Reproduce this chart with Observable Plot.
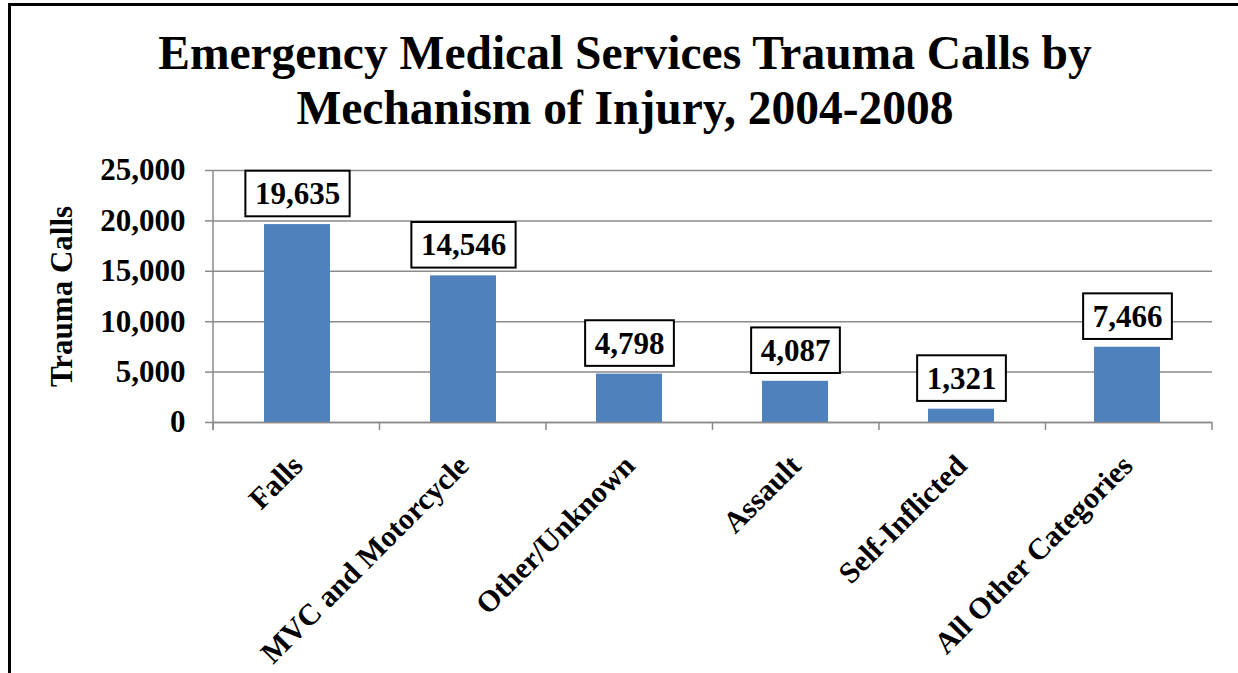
<!DOCTYPE html>
<html><head><meta charset="utf-8">
<script src="https://cdn.jsdelivr.net/npm/d3@7"></script>
<script src="https://cdn.jsdelivr.net/npm/@observablehq/plot@0.6"></script>
<style>
html,body{margin:0;padding:0;background:#fff;}
#wrap{position:relative;width:1238px;height:673px;overflow:hidden;font-family:"Liberation Serif","Times New Roman",serif;background:#fff;}
#border{position:absolute;left:8px;top:3px;width:1300px;height:800px;border-left:3px solid #000;border-top:3px solid #000;box-sizing:border-box;}
#title{position:absolute;left:6px;top:26px;width:1238px;text-align:center;font-weight:bold;font-size:47.5px;line-height:55px;color:#000;}
#chart{position:absolute;left:0;top:0;}
</style></head><body>
<div id="wrap"><div id="border"></div><div id="chart"></div><div id="title"></div></div>
<script>
const categories = ["Falls", "MVC and Motorcycle", "Other/Unknown", "Assault", "Self-Inflicted", "All Other Categories"];
const values = [19635, 14546, 4798, 4087, 1321, 7466];
const yTicks = [0, 5000, 10000, 15000, 20000, 25000];
const titleLines = ["Emergency Medical Services Trauma Calls by", "Mechanism of Injury, 2004-2008"];
const yLabel = "Trauma Calls";

const data = categories.map((c, i) => ({category: c, value: values[i]}));
const fmt = d3.format(",");

document.getElementById("title").innerHTML = titleLines.join("<br>");

const gray = "#8a8a8a";

// category-boundary ticks on the x axis and the vertical y axis line
function axisFrame(index, scales, values, dims) {
  const {width, height, marginLeft, marginRight, marginTop, marginBottom} = dims;
  const g = d3.create("svg:g");
  const y0 = height - marginBottom;
  const n = categories.length;
  const step = (width - marginLeft - marginRight) / n;
  for (let i = 0; i <= n; i++) {
    const x = marginLeft + i * step;
    g.append("line").attr("x1", x).attr("x2", x).attr("y1", y0).attr("y2", y0 + 8)
      .attr("stroke", gray).attr("stroke-width", 1.5);
  }
  g.append("line").attr("x1", marginLeft).attr("x2", marginLeft)
    .attr("y1", marginTop).attr("y2", y0 + 8).attr("stroke", gray).attr("stroke-width", 1.5);
  return g.node();
}

const chart = Plot.plot({
  width: 1238,
  height: 673,
  marginTop: 170,
  marginBottom: 251,
  marginLeft: 213,
  marginRight: 26,
  style: {fontFamily: "Liberation Serif, Times New Roman, serif", fontWeight: "bold", fontSize: "31px", background: "transparent", overflow: "visible", color: "#000"},
  x: {domain: categories, paddingInner: 0.6, paddingOuter: 0.3, axis: null},
  y: {domain: [0, 25000], axis: null},
  marks: [
    Plot.gridY(yTicks, {stroke: gray, strokeOpacity: 1, strokeWidth: 1.5}),
    Plot.axisY(yTicks, {tickFormat: fmt, tickSize: 8, tickPadding: 20, stroke: gray, strokeWidth: 1.5, fill: "#000", fontSize: 31, fontWeight: "bold", label: null}),
    Plot.barY(data, {x: "category", y: "value", fill: "#4F81BD"}),
    Plot.ruleY([0], {stroke: gray, strokeWidth: 1.5}),
    axisFrame,
    Plot.text(data, {x: "category", frameAnchor: "bottom", text: "category", rotate: -45, textAnchor: "end", lineAnchor: "bottom", dx: 7, dy: 45, fontSize: 30, fontWeight: "bold", fill: "#000"}),
    Plot.text([yLabel], {frameAnchor: "left", text: d => d, rotate: -90, textAnchor: "middle", lineAnchor: "middle", dx: -151, fontSize: 31, fontWeight: "bold", fill: "#000"}),
    Plot.text(data, {x: "category", y: "value", text: d => fmt(d.value), dy: -30.5, fontSize: 31, fontWeight: "bold", fill: "#000", lineAnchor: "middle"})
  ]
});
document.getElementById("chart").appendChild(chart);

// boxes behind the value labels
const valueStrings = new Set(values.map(fmt));
d3.select(chart).selectAll("text").each(function() {
  if (!valueStrings.has(this.textContent)) return;
  const bb = this.getBBox();
  const padX = 9.5, padY = 5.3;
  d3.select(this.parentNode).insert("rect", () => this)
    .attr("x", bb.x - padX).attr("y", bb.y - padY)
    .attr("width", bb.width + 2 * padX).attr("height", bb.height + 2 * padY)
    .attr("transform", this.getAttribute("transform"))
    .attr("fill", "#fff").attr("stroke", "#000").attr("stroke-width", 2);
});
</script>
</body></html>
